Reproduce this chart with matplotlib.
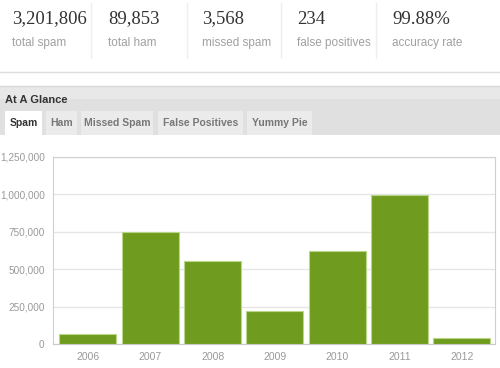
import matplotlib
matplotlib.use("Agg")
import matplotlib.pyplot as plt
from matplotlib.patches import Rectangle
from matplotlib.lines import Line2D
from matplotlib.ticker import FuncFormatter
import numpy as np

# header stats
stat_values = ["3,201,806", "89,853", "3,568", "234", "99.88%"]
stat_labels = ["total spam", "total ham", "missed spam", "false positives", "accuracy rate"]

# tabs
tab_names = ["Spam", "Ham", "Missed Spam", "False Positives", "Yummy Pie"]

# chart data
years = ["2006", "2007", "2008", "2009", "2010", "2011", "2012"]
spam = [67000, 750000, 558000, 223000, 619000, 994000, 40000]

W, H = 500, 368
fig = plt.figure(figsize=(W / 100, H / 100), dpi=100)

def fx(px):
    return px / W

def fy(py):
    return 1 - py / H

def frect(x0, y0, x1, y1, color):
    fig.patches.append(Rectangle((fx(x0), fy(y1)), fx(x1 - x0), (y1 - y0) / H,
                                 transform=fig.transFigure, facecolor=color,
                                 edgecolor="none", zorder=0))

def fline(x0, y0, x1, y1, color):
    fig.lines.append(Line2D([fx(x0), fx(x1)], [fy(y0), fy(y1)],
                            transform=fig.transFigure, color=color, lw=1))

# header row
col_x = [12, 108, 202, 297, 392]
for x, v, l in zip(col_x, stat_values, stat_labels):
    fig.text(fx(x), fy(19), v, fontsize=13.5, family="Liberation Serif",
             color="#333333", va="center", ha="left")
    fig.text(fx(x), fy(43), l, fontsize=8.5, family="Liberation Sans",
             color="#a0a0a0", va="center", ha="left")
for sx in [91, 187, 281, 376]:
    fline(sx, 3, sx, 58, "#eeeeee")
fline(0, 72, 500, 72, "#dddddd")

# "At A Glance" panel
frect(0, 86, 500, 99, "#e8e8e8")
frect(0, 99, 500, 135, "#e0e0e0")
fline(0, 86, 500, 86, "#d8d8d8")
fig.text(fx(5), fy(100), "At A Glance", fontsize=8, fontweight="bold",
         family="Liberation Sans", color="#333333", va="center", ha="left")

tab_x = [(5, 42), (46, 77), (81, 153), (158, 243), (247, 312)]
for i, ((x0, x1), name) in enumerate(zip(tab_x, tab_names)):
    frect(x0, 111, x1, 135, "#ffffff" if i == 0 else "#ebebeb")
    fig.text(fx((x0 + x1) / 2), fy(123), name, fontsize=7.5, fontweight="bold",
             family="Liberation Sans",
             color="#333333" if i == 0 else "#777777", va="center", ha="center")

# chart
ax = fig.add_axes([fx(53), fy(344), fx(495 - 53), (344 - 157) / H])
x = np.arange(len(years))
ax.bar(x, spam, width=0.915, color="#6f9c1e", edgecolor="#b9d68a",
       linewidth=0.8, zorder=3)
ax.set_xlim(-0.56, 6.53)
ax.set_ylim(0, 1250000)
ax.set_yticks(np.arange(0, 1250001, 250000))
ax.yaxis.set_major_formatter(FuncFormatter(lambda v, p: f"{int(v):,}"))
ax.set_xticks(x)
ax.set_xticklabels(years)
ax.grid(axis="y", color="#e6e6e6", lw=1, zorder=0)
for s in ["top", "right", "left"]:
    ax.spines[s].set_color("#d0d0d0")
ax.spines["bottom"].set_color("#c8c8c8")
ax.tick_params(axis="x", length=0, labelsize=7.5, colors="#999999", pad=6)
ax.tick_params(axis="y", length=0, labelsize=7.2, colors="#999999", pad=6)
for lab in ax.get_xticklabels() + ax.get_yticklabels():
    lab.set_family("Liberation Sans")

fig.savefig("out.png", dpi=100)
